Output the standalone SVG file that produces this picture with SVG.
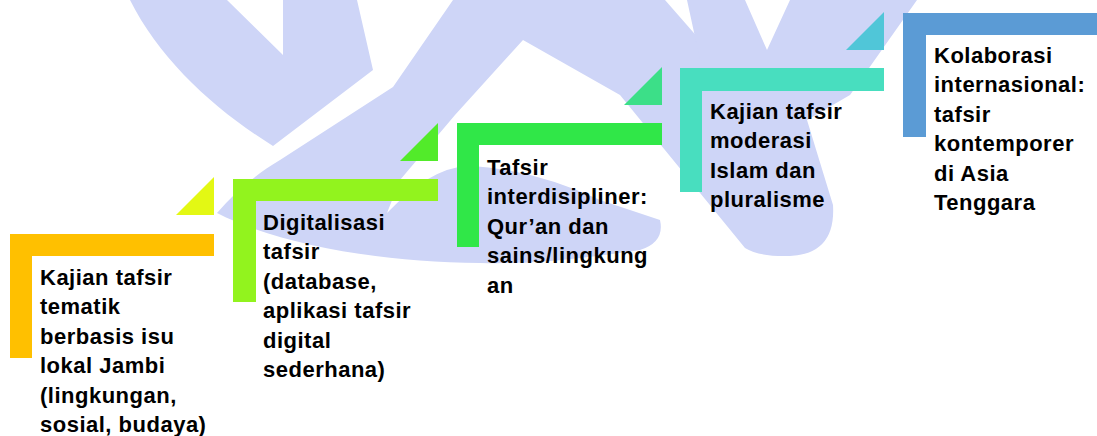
<svg xmlns="http://www.w3.org/2000/svg" width="1097" height="436" viewBox="0 0 1097 436">
<style>
.wm{fill:#CED5F7;}
.lbl{font-family:"Liberation Sans",Arial,sans-serif;font-weight:bold;font-size:22px;letter-spacing:0.5px;fill:#000;}
</style>
<rect width="1097" height="436" fill="#fff"/>
<g id="watermark">
<path class="wm" d="M130,0 L227,0 L283,55 L283,0 L357,0 L373,70 L273,146 C215,110 160,60 130,0 Z"/>
<path class="wm" d="M280,160 L393,87 L453,0 L665,0 L700,40 L807,120 L833,205 Q836,254 790,256 Q760,257 745,248 L620,95 L523,40 L455,115 L400,180 L387,213 Q430,168 467,166 Q530,168 600,200 L660,220 Q665,242 640,250 C560,262 520,264 480,263 C380,262 280,245 217,213 C235,192 255,175 280,160 Z"/>
<path class="wm" d="M687,0 L745,0 L767,50 L790,0 L917,0 L850,95 L807,120 L700,60 Z"/>
</g>
<g id="connectors"></g>
<g id="node1">
<path d="M10,234 H214 V256 H32 V358 H10 Z" fill="#FFC000"/>
<polygon points="214,177 176,215 214,215" fill="#E3F814"/>
<text class="lbl"><tspan x="40" y="285">Kajian tafsir</tspan><tspan x="40" y="314.4">tematik</tspan><tspan x="40" y="343.8">berbasis isu</tspan><tspan x="40" y="373.2">lokal Jambi</tspan><tspan x="40" y="402.6">(lingkungan,</tspan><tspan x="40" y="432">sosial, budaya)</tspan></text>
</g>
<g id="node2">
<path d="M233,179 H438 V201 H256 V302 H233 Z" fill="#92F31E"/>
<polygon points="438,123 400,161 438,161" fill="#52EB2A"/>
<text class="lbl"><tspan x="263" y="230">Digitalisasi</tspan><tspan x="263" y="259.4">tafsir</tspan><tspan x="263" y="288.8">(database,</tspan><tspan x="263" y="318.2">aplikasi tafsir</tspan><tspan x="263" y="347.6">digital</tspan><tspan x="263" y="377">sederhana)</tspan></text>
</g>
<g id="node3">
<path d="M457,123 H662 V145 H479 V247 H457 Z" fill="#30E748"/>
<polygon points="662,67 624,105 662,105" fill="#3CDF88"/>
<text class="lbl"><tspan x="487" y="175">Tafsir</tspan><tspan x="487" y="204.4">interdisipliner:</tspan><tspan x="487" y="233.8">Qur’an dan</tspan><tspan x="487" y="263.2">sains/lingkung</tspan><tspan x="487" y="292.6">an</tspan></text>
</g>
<g id="node4">
<path d="M680,68 H884 V91 H702 V192 H680 Z" fill="#48DEBF"/>
<polygon points="884,12 846,50 884,50" fill="#50C6D8"/>
<text class="lbl"><tspan x="710" y="119">Kajian tafsir</tspan><tspan x="710" y="148.4">moderasi</tspan><tspan x="710" y="177.8">Islam dan</tspan><tspan x="710" y="207.2">pluralisme</tspan></text>
</g>
<g id="node5">
<path d="M903,13 H1097 V35 H926 V137 H903 Z" fill="#5B9BD5"/>
<text class="lbl"><tspan x="934" y="63">Kolaborasi</tspan><tspan x="934" y="92.4">internasional:</tspan><tspan x="934" y="121.8">tafsir</tspan><tspan x="934" y="151.2">kontemporer</tspan><tspan x="934" y="180.6">di Asia</tspan><tspan x="934" y="210">Tenggara</tspan></text>
</g>
</svg>
